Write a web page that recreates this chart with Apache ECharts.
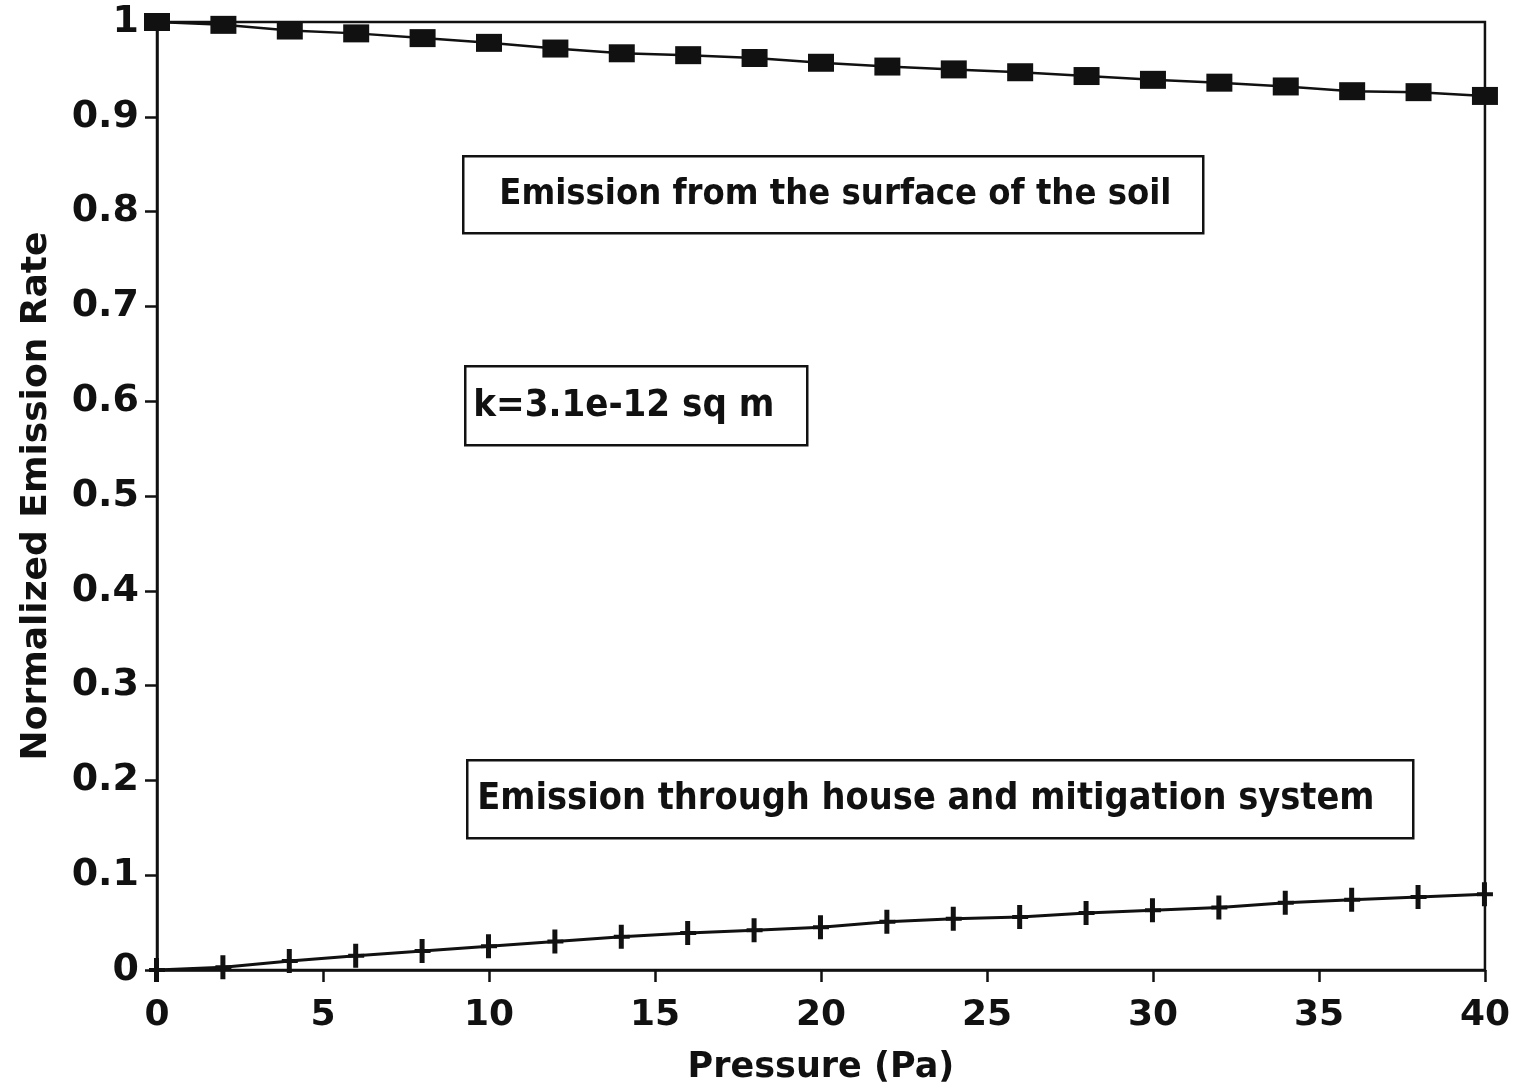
<!DOCTYPE html>
<html lang="en">
<head>
    <meta charset="UTF-8">
    <script src="https://cdn.jsdelivr.net/npm/echarts@6/dist/echarts.min.js"></script>
    <style>
        body, html {
            margin: 0;
            height: 100%;
            background: #fff;
        }

        #main {
            width: 1513px;
            height: 1092px;
        }
    </style>
    <title>Normalized Emission Rate</title>
</head>
<body>

<div id="main"></div>
<script type="text/javascript">
    const myChart = echarts.init(document.getElementById('main'));

    // pressure (Pa)
    const pressure = [0, 2, 4, 6, 8, 10, 12, 14, 16, 18, 20, 22, 24, 26, 28, 30, 32, 34, 36, 38, 40];
    // emission from the surface of the soil
    const soilEmission = [1.0, 0.997, 0.991, 0.988, 0.983, 0.978, 0.972, 0.967, 0.965, 0.962, 0.957,
        0.953, 0.950, 0.947, 0.943, 0.939, 0.936, 0.932, 0.927, 0.926, 0.922];
    // emission through house and mitigation system
    const houseEmission = [0, 0.003, 0.0095, 0.015, 0.020, 0.025, 0.030, 0.035, 0.039, 0.042, 0.045,
        0.051, 0.054, 0.056, 0.060, 0.063, 0.066, 0.071, 0.074, 0.077, 0.080];

    const ink = '#111';
    const labelFont = '"DejaVu Sans", sans-serif';
    const boxFont = '"DejaVu Sans Condensed", "Liberation Sans Narrow", sans-serif';

    function pairs(ys) {
        return pressure.map(function (x, i) {
            return [x, ys[i]];
        });
    }

    function textBox(left, top, w, h, text, size, pad) {
        return {
            type: 'group',
            left: left,
            top: top,
            children: [
                {
                    type: 'rect',
                    shape: {x: 0, y: 0, width: w, height: h},
                    style: {fill: '#fff', stroke: ink, lineWidth: 2.5}
                },
                {
                    type: 'text',
                    x: pad,
                    y: h / 2,
                    style: {
                        text: text,
                        fill: ink,
                        font: 'bold ' + size + 'px ' + boxFont,
                        verticalAlign: 'middle'
                    }
                }
            ]
        };
    }

    var option = {
        animation: false,
        grid: {
            left: 157,
            right: 27,
            top: 22,
            bottom: 122,
            show: true,
            borderColor: ink,
            borderWidth: 2.5
        },
        xAxis: {
            type: 'value',
            min: 0,
            max: 40,
            interval: 5,
            name: 'Pressure (Pa)',
            nameLocation: 'middle',
            nameGap: 80,
            nameTextStyle: {color: ink, fontSize: 35, fontWeight: 'bold', fontFamily: labelFont},
            axisLine: {lineStyle: {color: ink, width: 2.5}},
            axisTick: {length: 12, lineStyle: {color: ink, width: 2.5}},
            axisLabel: {color: ink, fontSize: 36, fontWeight: 'bold', fontFamily: labelFont, margin: 28},
            splitLine: {show: false}
        },
        yAxis: {
            type: 'value',
            min: 0,
            max: 1,
            interval: 0.1,
            name: 'Normalized Emission Rate',
            nameLocation: 'middle',
            nameGap: 102,
            nameTextStyle: {color: ink, fontSize: 36, fontWeight: 'bold', fontFamily: labelFont},
            axisLine: {lineStyle: {color: ink, width: 2.5}},
            axisTick: {length: 12, lineStyle: {color: ink, width: 2.5}},
            axisLabel: {
                color: ink, fontSize: 38, fontWeight: 'bold', fontFamily: labelFont, margin: 18,
                formatter: function (v) {
                    if (v === 0) return '0';
                    if (v === 1) return '1';
                    return v.toFixed(1);
                }
            },
            splitLine: {show: false}
        },
        series: [
            {
                name: 'Emission from the surface of the soil',
                type: 'line',
                data: pairs(soilEmission),
                symbol: 'rect',
                symbolSize: [26, 18],
                itemStyle: {color: ink},
                lineStyle: {color: ink, width: 2.5},
                z: 3
            },
            {
                name: 'Emission through house and mitigation system',
                type: 'line',
                data: pairs(houseEmission),
                symbol: 'path://M5,0 H10 V10 H16 V14 H10 V24 H5 V14 H0 V10 H5 Z',
                symbolSize: [16, 24],
                itemStyle: {color: ink},
                lineStyle: {color: ink, width: 3},
                z: 3
            }
        ],
        graphic: [
            textBox(462, 155, 740, 77, 'Emission from the surface of the soil', 36, 36),
            textBox(464, 365, 342, 79, 'k=3.1e-12 sq m', 38, 8),
            textBox(466, 759, 946, 78, 'Emission through house and mitigation system', 37.5, 10)
        ]
    };
    myChart.setOption(option);

</script>
</body>
</html>
